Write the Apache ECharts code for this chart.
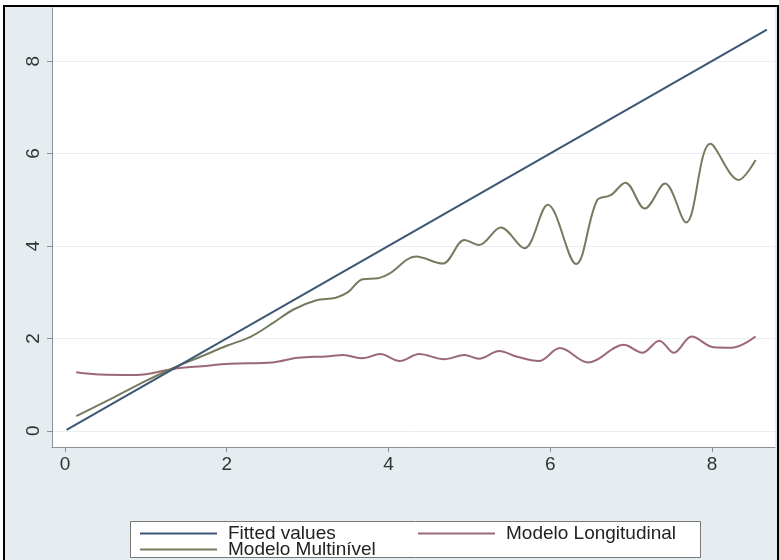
<!DOCTYPE html>
<html>
<head>
<meta charset="utf-8">
<script src="https://cdn.jsdelivr.net/npm/echarts@6/dist/echarts.min.js"></script>
<style>
html, body { margin: 0; padding: 0; background: #fff; }
#frame {
  position: absolute; left: 3px; top: 5px;
  width: 772px; height: 600px;
  border: 2px solid #000;
  background: #e6edf1;
}
#main { position: absolute; left: 0; top: 0; width: 779px; height: 560px; }
</style>
</head>
<body>
<div id="frame"></div>
<div id="main"></div>
<script>
// tick labels
var xTicks = [0, 2, 4, 6, 8];
var yTicks = [0, 2, 4, 6, 8];

// series names
var seriesNames = ['Fitted values', 'Modelo Longitudinal', 'Modelo Multinível'];

// fitted straight line (two end points)
var fitted = [[0.02, 0.02], [8.68, 8.68]];

// Modelo Multinível
var multinivel = [
  [0.14, 0.32], [0.6, 0.72], [1.0, 1.08], [1.34, 1.36], [1.7, 1.62], [2.0, 1.84],
  [2.3, 2.04], [2.57, 2.33], [2.82, 2.62], [3.1, 2.82], [3.35, 2.88], [3.5, 3.0],
  [3.68, 3.28], [3.87, 3.3], [4.01, 3.4], [4.34, 3.77], [4.67, 3.62], [4.94, 4.13],
  [5.12, 4.02], [5.39, 4.4], [5.68, 3.95], [5.97, 4.89], [6.32, 3.61], [6.58, 4.99],
  [6.75, 5.1], [6.93, 5.37], [7.17, 4.81], [7.42, 5.35], [7.68, 4.51], [7.98, 6.21],
  [8.33, 5.43], [8.54, 5.86]
];

// Modelo Longitudinal
var longitudinal = [
  [0.14, 1.27], [0.43, 1.22], [0.88, 1.21], [1.34, 1.34], [1.7, 1.4], [2.04, 1.45],
  [2.57, 1.48], [2.88, 1.58], [3.23, 1.61], [3.44, 1.64], [3.68, 1.57], [3.9, 1.66],
  [4.14, 1.51], [4.38, 1.66], [4.69, 1.55], [4.94, 1.64], [5.12, 1.56], [5.37, 1.73],
  [5.58, 1.61], [5.86, 1.51], [6.12, 1.79], [6.47, 1.48], [6.91, 1.86], [7.14, 1.69],
  [7.35, 1.95], [7.53, 1.69], [7.75, 2.04], [8.02, 1.81], [8.25, 1.8], [8.54, 2.04]
];

var colors = ['#3d5674', '#9c6876', '#747c60'];

var chart = echarts.init(document.getElementById('main'));
var tickFont = "'Liberation Sans Narrow', 'Arial Narrow', 'Liberation Sans', Arial, sans-serif";

// one legend entry, placed like Stata's two-column key
function legendItem(name, left, top) {
  return {
    data: [name],
    left: left, top: top,
    icon: 'rect',
    itemWidth: 77, itemHeight: 2,
    padding: 0,
    textStyle: {
      padding: [0, 0, 0, 6],
      fontSize: 19, color: '#222',
      fontFamily: "'Liberation Sans', Arial, sans-serif"
    }
  };
}

var option = {
  animation: false,
  backgroundColor: 'transparent',
  color: colors,
  grid: {
    left: 52, right: 4, top: 8, bottom: 113,
    show: true, backgroundColor: '#fff', borderWidth: 0
  },
  graphic: [{
    type: 'rect', left: 130, top: 521, z: 0,
    shape: { width: 570, height: 36 },
    style: { fill: '#fff', stroke: '#777', lineWidth: 1 }
  }],
  xAxis: {
    type: 'value',
    min: -0.16, max: 8.78,
    axisLine: { show: true, onZero: false, lineStyle: { color: '#8a9095', width: 1 } },
    axisTick: { show: true, length: 5, customValues: xTicks, lineStyle: { color: '#8a9095' } },
    axisLabel: { customValues: xTicks, margin: 8, color: '#333', fontSize: 19, fontFamily: tickFont },
    splitLine: { show: false }
  },
  yAxis: {
    type: 'value',
    min: -0.35, max: 9.15,
    axisLine: { show: true, onZero: false, lineStyle: { color: '#8a9095', width: 1 } },
    axisTick: { show: true, length: 5, customValues: yTicks, lineStyle: { color: '#8a9095' } },
    axisLabel: { customValues: yTicks, rotate: 90, margin: 9, color: '#333', fontSize: 19, fontFamily: tickFont },
    splitLine: { show: true, lineStyle: { color: '#e8eef1', width: 1 } }
  },
  legend: [
    legendItem(seriesNames[0], 140, 524),
    legendItem(seriesNames[1], 418, 524),
    legendItem(seriesNames[2], 140, 540)
  ],
  series: [
    {
      name: seriesNames[0], type: 'line', data: fitted,
      symbol: 'none', lineStyle: { width: 2, color: colors[0] }, z: 4
    },
    {
      name: seriesNames[1], type: 'line', data: longitudinal,
      symbol: 'none', smooth: 0.35, lineStyle: { width: 2, color: colors[1] }, z: 3
    },
    {
      name: seriesNames[2], type: 'line', data: multinivel,
      symbol: 'none', smooth: 0.35, lineStyle: { width: 2, color: colors[2] }, z: 3
    }
  ]
};
chart.setOption(option);
</script>
</body>
</html>
